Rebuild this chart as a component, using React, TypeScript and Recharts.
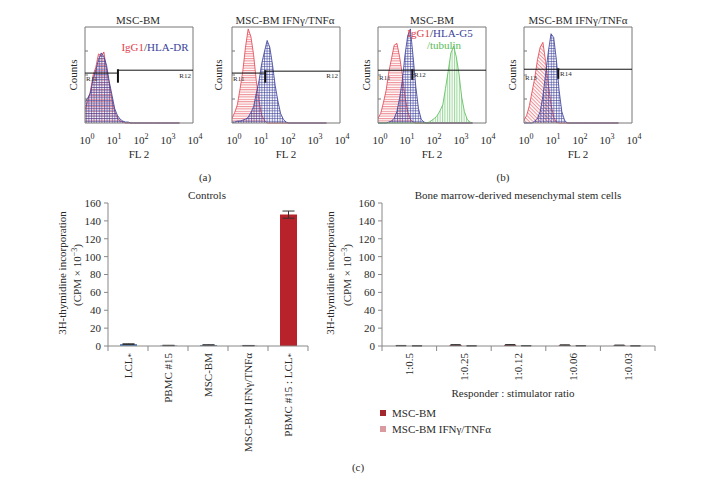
import React from 'react';
import {
  AreaChart, Area, XAxis, YAxis, ReferenceArea, ReferenceLine,
  BarChart, Bar, ErrorBar, Cell, Legend,
} from 'recharts';

const FONT = '"Liberation Serif", "DejaVu Serif", serif';
const TXT = '#2a2a2a';

// ---------- Flow cytometry histograms (a), (b) ----------
const flGrid = [1, 1.26, 1.58, 2, 2.51, 3.16, 3.98, 5.01, 6.31, 7.94, 10, 12.6, 15.8, 20, 25.1, 31.6, 39.8, 50.1, 63.1, 79.4, 100, 126, 158, 200, 251, 316, 398, 501, 631, 794, 1000, 1259, 1585, 1995, 2512, 3162];
const flTicks = [1, 10, 100, 1000, 10000];
const countTicks = [0, 25, 50, 75, 100];

const p1IgG1 = [14, 23, 33, 50, 58, 72, 70, 74, 55, 41, 24, 12, 5, 2, 1, 0, 0, 0, 0, 0, 0, 0, 0, 0, 0, 0, 0, 0, 0, 0, 0, 0, 0, 0, 0, 0];
const p1HLADR = [22, 26, 31, 46, 55, 66, 73, 69, 60, 43, 29, 15, 8, 4, 2, 1, 1, 0, 0, 0, 0, 0, 0, 0, 0, 0, 0, 0, 0, 0, 0, 0, 0, 0, 0, 0];
const p2IgG1 = [5, 11, 19, 36, 54, 79, 98, 90, 71, 44, 23, 8, 3, 0, 0, 0, 0, 0, 0, 0, 0, 0, 0, 0, 0, 0, 0, 0, 0, 0, 0, 0, 0, 0, 0, 0];
const p2HLADR = [1, 1, 2, 2, 3, 4, 6, 11, 17, 31, 44, 62, 74, 86, 79, 61, 39, 23, 10, 4, 1, 0, 0, 0, 0, 0, 0, 0, 0, 0, 0, 0, 0, 0, 0, 0];
const p3IgG1 = [5, 10, 21, 34, 53, 67, 81, 83, 69, 51, 27, 12, 4, 1, 0, 0, 0, 0, 0, 0, 0, 0, 0, 0, 0, 0, 0, 0, 0, 0, 0, 0, 0, 0, 0, 0];
const p3HLAG5 = [0, 0, 0, 0, 1, 2, 5, 12, 26, 44, 71, 91, 98, 69, 38, 15, 4, 1, 0, 0, 0, 0, 0, 0, 0, 0, 0, 0, 0, 0, 0, 0, 0, 0, 0, 0];
const p3Tubulin = [0, 0, 0, 0, 0, 0, 0, 0, 0, 0, 0, 0, 0, 0, 0, 0, 0, 0, 0, 1, 3, 5, 8, 13, 19, 36, 54, 73, 80, 69, 51, 27, 12, 4, 1, 0];
const p4IgG1 = [3, 8, 18, 33, 47, 66, 79, 84, 64, 41, 19, 6, 1, 0, 0, 0, 0, 0, 0, 0, 0, 0, 0, 0, 0, 0, 0, 0, 0, 0, 0, 0, 0, 0, 0, 0];
const p4HLAG5 = [0, 0, 0, 0, 2, 5, 12, 28, 51, 74, 93, 89, 66, 34, 12, 3, 0, 0, 0, 0, 0, 0, 0, 0, 0, 0, 0, 0, 0, 0, 0, 0, 0, 0, 0, 0];

// gate markers: [low region level, high region level, split FL value]
const gateLow = [52, 52, 55, 56];
const gateHigh = [55, 54, 55, 56];
const gateSplit = [16.6, 17, 18.6, 18.6];

const RED = '#e0404c';
const BLUE = '#3a3f98';
const GREEN = '#55bb55';

type Ser = { key: string; values: number[]; color: string; pattern: 'h' | 'grid' | 'v' | 'diag' };

const panels: { left: number; series: Ser[] }[] = [
  { left: 85, series: [
    { key: 'igg1', values: p1IgG1, color: RED, pattern: 'h' },
    { key: 'hla', values: p1HLADR, color: BLUE, pattern: 'grid' },
  ] },
  { left: 232, series: [
    { key: 'igg1', values: p2IgG1, color: RED, pattern: 'h' },
    { key: 'hla', values: p2HLADR, color: BLUE, pattern: 'grid' },
  ] },
  { left: 378, series: [
    { key: 'igg1', values: p3IgG1, color: RED, pattern: 'h' },
    { key: 'hla', values: p3HLAG5, color: BLUE, pattern: 'grid' },
    { key: 'tub', values: p3Tubulin, color: GREEN, pattern: 'v' },
  ] },
  { left: 524, series: [
    { key: 'igg1', values: p4IgG1, color: RED, pattern: 'diag' },
    { key: 'hla', values: p4HLAG5, color: BLUE, pattern: 'grid' },
  ] },
];

// ---------- Proliferation bar charts (c) ----------
const controlCats = ['LCL*', 'PBMC #15', 'MSC-BM', 'MSC-BM IFNγ/TNFα', 'PBMC #15 : LCL*'];
const controlValues = [2.1, 0.6, 1.1, 0.4, 147];
const controlErrors = [0.4, 0.2, 0.3, 0.2, 4];
const controlColors = ['#4a7bb7', '#7f9cc4', '#5a83b9', '#8aa2c6', '#b8222b'];

const ratioCats = ['1:0.5', '1:0.25', '1:0.12', '1:0.06', '1:0.03'];
const mscValues = [0.4, 1.2, 1.3, 1.0, 0.8];
const mscErrors = [0.2, 0.3, 0.3, 0.3, 0.2];
const ifnValues = [0.2, 0.2, 0.3, 0.3, 0.2];
const ifnErrors = [0.2, 0.2, 0.2, 0.2, 0.2];
const ratioSeries = ['MSC-BM', 'MSC-BM IFNγ/TNFα'];
const ratioColors = ['#a3282e', '#d99aa0'];
const yTicks = [0, 20, 40, 60, 80, 100, 120, 140, 160];

const controlRows = controlCats.map((name, i) => ({ name, value: controlValues[i], err: controlErrors[i] }));
const ratioRows = ratioCats.map((name, i) => ({
  name, msc: mscValues[i], mscErr: mscErrors[i], ifn: ifnValues[i], ifnErr: ifnErrors[i],
}));

// ---------- helpers ----------
function Txt({ x, y, children, size = 11, rot = 0, color = TXT, anchor = 'middle' }: any) {
  const tx = anchor === 'middle' ? '-50%' : anchor === 'end' ? '-100%' : '0';
  return (
    <div style={{
      position: 'absolute', left: x, top: y, transform: `translate(${tx},-50%) rotate(${rot}deg)`,
      whiteSpace: 'nowrap', fontSize: size, fontFamily: FONT, color, lineHeight: 1,
    }}>{children}</div>
  );
}

const LogTick = (props: any) => {
  const { x, y, payload } = props;
  const exp = Math.round(Math.log10(payload.value));
  return (
    <text x={x + 2} y={y + 13} textAnchor="middle" fontSize={11} fill={TXT} fontFamily={FONT}>
      10<tspan dy={-5} fontSize={8}>{exp}</tspan>
    </text>
  );
};

const CountTick = (props: any) => {
  const { y, payload } = props;
  if (payload.value === 0 || payload.value === 100) return <g />;
  return <line x1={20} y1={y} x2={23} y2={y} stroke="#777" strokeWidth={1} />;
};

function Patterns({ id }: { id: number }) {
  return (
    <defs>
      <pattern id={`h${id}`} width={4} height={2.4} patternUnits="userSpaceOnUse">
        <line x1={0} y1={0.6} x2={4} y2={0.6} stroke={RED} strokeWidth={0.7} />
      </pattern>
      <pattern id={`grid${id}`} width={2.6} height={2.6} patternUnits="userSpaceOnUse">
        <path d="M0 0.5H2.6M0.5 0V2.6" stroke={BLUE} strokeWidth={0.6} fill="none" />
      </pattern>
      <pattern id={`v${id}`} width={2.4} height={4} patternUnits="userSpaceOnUse">
        <line x1={0.6} y1={0} x2={0.6} y2={4} stroke={GREEN} strokeWidth={0.7} />
      </pattern>
      <pattern id={`diag${id}`} width={2.6} height={2.6} patternUnits="userSpaceOnUse" patternTransform="rotate(45)">
        <line x1={0} y1={0.6} x2={2.6} y2={0.6} stroke={RED} strokeWidth={0.6} />
      </pattern>
    </defs>
  );
}

function Histo({ idx }: { idx: number }) {
  const p = panels[idx];
  const rows = flGrid.map((x, i) => {
    const r: any = { x };
    p.series.forEach((s) => { r[s.key] = s.values[i]; });
    return r;
  });
  const split = gateSplit[idx];
  return (
    <div style={{ position: 'absolute', left: p.left - 20, top: 22 }}>
      <AreaChart width={140} height={125} data={rows} margin={{ top: 5, right: 12, left: 0, bottom: 0 }}>
        <Patterns id={idx} />
        <XAxis dataKey="x" type="number" scale="log" domain={[1, 10000]} ticks={flTicks} interval={0}
          allowDataOverflow tick={LogTick} tickLine={false} axisLine={false} height={24} />
        <YAxis type="number" domain={[0, 100]} ticks={countTicks} interval={0} tick={CountTick} width={20}
          axisLine={false} tickLine={false} />
        {p.series.map((s) => (
          <Area key={s.key} dataKey={s.key} type="linear" stroke={s.color} strokeWidth={0.8}
            fill={`url(#${s.pattern}${idx})`} fillOpacity={1} dot={false} activeDot={false}
            isAnimationActive={false} />
        ))}
        <ReferenceArea x1={1} x2={10000} y1={0} y2={100} fill="none" stroke="#777" strokeWidth={1} ifOverflow="visible" />
        <ReferenceLine segment={[{ x: 1, y: gateLow[idx] }, { x: split, y: gateLow[idx] }]} stroke="#111" strokeWidth={1} ifOverflow="visible" />
        <ReferenceLine segment={[{ x: split, y: gateHigh[idx] }, { x: 10000, y: gateHigh[idx] }]} stroke="#111" strokeWidth={1} ifOverflow="visible" />
        <ReferenceLine segment={[{ x: split, y: gateLow[idx] - 10 }, { x: split, y: gateHigh[idx] + 1 }]} stroke="#111" strokeWidth={2} ifOverflow="visible" />
      </AreaChart>
    </div>
  );
}

function makeCatTick(band: number, count: number) {
  return (props: any) => {
    const { x, y, payload, index } = props;
    const label: string = payload.value;
    const star = label.endsWith('*');
    const base = star ? label.slice(0, -1) : label;
    return (
      <g>
        <line x1={x - band / 2} y1={y} x2={x - band / 2} y2={y + 5} stroke="#888" />
        {index === count - 1 && <line x1={x + band / 2} y1={y} x2={x + band / 2} y2={y + 5} stroke="#888" />}
        <g transform={`translate(${x},${y + 7})`}>
          <text transform="rotate(-90)" textAnchor="end" dy="0.35em" fontSize={11} fill={TXT} fontFamily={FONT}>
            {base}{star && <tspan fontSize={9} dy={2}>*</tspan>}
          </text>
        </g>
      </g>
    );
  };
}

const yTickStyle = { fontSize: 11, fill: TXT, fontFamily: FONT };

const renderLegend = () => (
  <div style={{ fontFamily: FONT, fontSize: 11, color: TXT }}>
    {ratioSeries.map((s, i) => (
      <div key={s} style={{ display: 'flex', alignItems: 'center', height: 16 }}>
        <span style={{ display: 'inline-block', width: 6, height: 6, background: ratioColors[i], marginRight: 6 }} />
        {s}
      </div>
    ))}
  </div>
);

export default function App() {
  return (
    <div style={{ position: 'absolute', left: 0, top: 0, width: 724, height: 483, background: '#fff', overflow: 'hidden' }}>
      {/* histograms */}
      {panels.map((_, i) => <Histo key={i} idx={i} />)}
      <Txt x={138} y={20}>MSC-BM</Txt>
      <Txt x={285} y={20}>MSC-BM IFNγ/TNFα</Txt>
      <Txt x={432} y={20}>MSC-BM</Txt>
      <Txt x={578} y={20}>MSC-BM IFNγ/TNFα</Txt>
      {[73, 218, 366, 512].map((x) => <Txt key={x} x={x} y={75} rot={-90}>Counts</Txt>)}
      {[139, 286, 432, 578].map((x) => <Txt key={x} x={x} y={154}>FL 2</Txt>)}
      <Txt x={155} y={47}><span style={{ color: RED }}>IgG1</span>/<span style={{ color: BLUE }}>HLA-DR</span></Txt>
      <Txt x={440} y={33}><span style={{ color: RED }}>IgG1</span>/<span style={{ color: BLUE }}>HLA-G5</span></Txt>
      <Txt x={444} y={45} color={GREEN}>/tubulin</Txt>
      <Txt x={86} y={79} size={7} anchor="start">R11</Txt>
      <Txt x={191} y={76} size={7} anchor="end">R12</Txt>
      <Txt x={233} y={79} size={7} anchor="start">R11</Txt>
      <Txt x={338} y={76} size={7} anchor="end">R12</Txt>
      <Txt x={379} y={78} size={7} anchor="start">R11</Txt>
      <Txt x={414} y={75} size={7} anchor="start">R12</Txt>
      <Txt x={525} y={78} size={7} anchor="start">R13</Txt>
      <Txt x={560} y={74} size={7} anchor="start">R14</Txt>
      <Txt x={205} y={177}>(a)</Txt>
      <Txt x={503} y={177}>(b)</Txt>

      {/* controls */}
      <div style={{ position: 'absolute', left: 40, top: 185 }}>
        <BarChart width={280} height={280} data={controlRows} margin={{ top: 18, right: 12, left: 0, bottom: 0 }}>
          <XAxis dataKey="name" interval={0} tick={makeCatTick(40, controlCats.length)} tickLine={false}
            tickSize={0} tickMargin={0} height={119} stroke="#888" />
          <YAxis type="number" domain={[0, 160]} ticks={yTicks} interval={0} width={68} tickSize={4}
            tickMargin={3} stroke="#888" tick={yTickStyle} />
          <Bar dataKey="value" barSize={17} isAnimationActive={false}>
            {controlRows.map((r, i) => <Cell key={r.name} fill={controlColors[i]} />)}
            <ErrorBar dataKey="err" width={6} stroke="#333" strokeWidth={1} />
          </Bar>
        </BarChart>
      </div>
      <Txt x={207} y={195}>Controls</Txt>
      <Txt x={62} y={273} rot={-90}>3H-thymidine incorporation</Txt>
      <Txt x={77} y={275} rot={-90}>(CPM × 10<sup style={{ fontSize: 8 }}>−3</sup>)</Txt>

      {/* bone marrow MSC */}
      <div style={{ position: 'absolute', left: 340, top: 185 }}>
        <BarChart width={330} height={280} data={ratioRows} margin={{ top: 18, right: 15, left: 0, bottom: 0 }}
          barGap={4}>
          <XAxis dataKey="name" interval={0} tick={makeCatTick(54.6, ratioCats.length)} tickLine={false}
            tickSize={0} tickMargin={0} height={119} stroke="#888" />
          <YAxis type="number" domain={[0, 160]} ticks={yTicks} interval={0} width={42} tickSize={4}
            tickMargin={3} stroke="#888" tick={yTickStyle} />
          <Bar dataKey="msc" name={ratioSeries[0]} fill={ratioColors[0]} barSize={12} isAnimationActive={false}>
            <ErrorBar dataKey="mscErr" width={5} stroke="#333" strokeWidth={1} />
          </Bar>
          <Bar dataKey="ifn" name={ratioSeries[1]} fill={ratioColors[1]} barSize={12} isAnimationActive={false}>
            <ErrorBar dataKey="ifnErr" width={5} stroke="#333" strokeWidth={1} />
          </Bar>
          <Legend layout="vertical" align="center" verticalAlign="middle" content={renderLegend}
            wrapperStyle={{ left: 40, top: 220, width: 200, height: 36 }} />
        </BarChart>
      </div>
      <Txt x={518} y={195}>Bone marrow-derived mesenchymal stem cells</Txt>
      <Txt x={330} y={273} rot={-90}>3H-thymidine incorporation</Txt>
      <Txt x={347} y={275} rot={-90}>(CPM × 10<sup style={{ fontSize: 8 }}>−3</sup>)</Txt>
      <Txt x={513} y={393}>Responder : stimulator ratio</Txt>
      <Txt x={358} y={467}>(c)</Txt>
    </div>
  );
}
